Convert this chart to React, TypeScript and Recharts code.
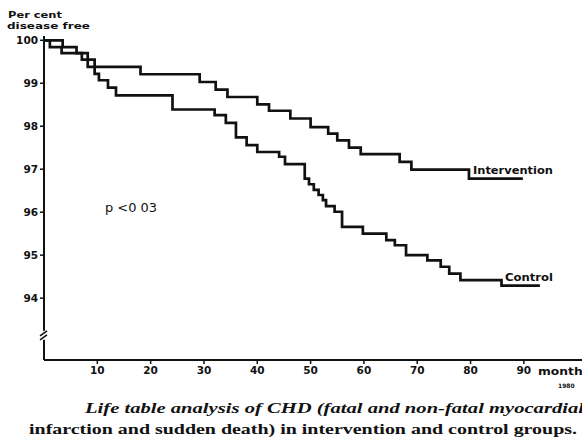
import React from "react";
import { LineChart, Line, XAxis, YAxis, ReferenceDot } from "recharts";

// Life-table survival (per cent free of CHD) by month of follow-up
const interventionMonths = [0, 3.5, 6.1, 8.2, 18.1, 29.2, 32.2, 34.4, 40.0, 42.2, 46.2, 50.0, 53.3, 55.0, 57.2, 59.4, 66.7, 68.9, 79.7, 89.8];
const interventionFree = [100, 99.84, 99.7, 99.38, 99.21, 99.03, 98.85, 98.68, 98.51, 98.36, 98.18, 97.98, 97.83, 97.67, 97.5, 97.35, 97.17, 96.99, 96.78, 96.78];

const controlMonths = [0, 1.1, 3.3, 7.1, 9.5, 10.3, 12.0, 13.5, 24.1, 32.0, 34.1, 36.0, 38.0, 40.0, 44.1, 45.2, 48.9, 49.7, 50.6, 51.5, 52.3, 52.9, 54.5, 55.9, 59.8, 64.2, 65.8, 67.9, 71.9, 74.4, 76.0, 78.1, 85.8, 93.0];
const controlFree = [100, 99.84, 99.7, 99.55, 99.22, 99.07, 98.9, 98.72, 98.39, 98.26, 98.08, 97.74, 97.56, 97.4, 97.29, 97.12, 96.78, 96.65, 96.52, 96.4, 96.28, 96.14, 96.01, 95.66, 95.5, 95.35, 95.23, 95.0, 94.88, 94.73, 94.57, 94.42, 94.29, 94.29];

const monthTicks = [10, 20, 30, 40, 50, 60, 70, 80, 90];
const percentTicks = [94, 95, 96, 97, 98, 99, 100];

const toSeries = (months: number[], values: number[]) =>
  months.map((m, i) => ({ m, v: values[i] }));

const interventionData = toSeries(interventionMonths, interventionFree);
const controlData = toSeries(controlMonths, controlFree);

const W = 582;
const H = 445;
const INK = "#111";

const tickFont = {
  fontFamily: "DejaVu Sans",
  fontWeight: 700,
  fontSize: 10.5,
  fill: INK,
};

// Small "//" break drawn across the value axis
function BreakMark(props: any) {
  const { cx, cy } = props;
  return (
    <g>
      <rect x={cx - 5} y={cy - 6} width={10} height={9} fill="#fff" />
      <line x1={cx - 4} y1={cy - 1} x2={cx + 3} y2={cy - 6} stroke={INK} strokeWidth={1.6} />
      <line x1={cx - 4} y1={cy + 3} x2={cx + 3} y2={cy - 2} stroke={INK} strokeWidth={1.6} />
    </g>
  );
}

export default function App() {
  return (
    <div style={{ position: "absolute", left: 0, top: 0, width: W, height: H, background: "#fff", overflow: "hidden" }}>
      <LineChart width={W} height={H} margin={{ top: 36, right: 0, bottom: 60, left: 0 }}>
        <XAxis
          type="number"
          dataKey="m"
          domain={[0, 100.9]}
          ticks={monthTicks}
          interval={0}
          height={25}
          axisLine={{ stroke: INK, strokeWidth: 2 }}
          tickLine={{ stroke: INK, strokeWidth: 1.5 }}
          tickSize={4}
          tickMargin={3}
          tick={tickFont}
        />
        <YAxis
          type="number"
          domain={[92.56, 100.1]}
          allowDataOverflow
          ticks={percentTicks}
          interval={0}
          width={44}
          axisLine={{ stroke: INK, strokeWidth: 2 }}
          tickLine={{ stroke: INK, strokeWidth: 1.5 }}
          tickSize={4}
          tickMargin={2}
          tick={tickFont}
        />
        <Line
          data={interventionData}
          dataKey="v"
          type="stepAfter"
          stroke={INK}
          strokeWidth={2.7}
          dot={false}
          isAnimationActive={false}
        />
        <Line
          data={controlData}
          dataKey="v"
          type="stepAfter"
          stroke={INK}
          strokeWidth={2.7}
          dot={false}
          isAnimationActive={false}
        />
        <ReferenceDot x={0} y={93.1} r={0} ifOverflow="visible" shape={BreakMark} />
      </LineChart>
      <svg width={W} height={H} style={{ position: "absolute", left: 0, top: 0, pointerEvents: "none" }}>
        <g fontFamily="DejaVu Sans" fontWeight={700} fill={INK}>
          <text x={8} y={18} fontSize={9.5} textLength={54} lengthAdjust="spacingAndGlyphs">Per cent</text>
          <text x={7} y={29} fontSize={9.5} textLength={83} lengthAdjust="spacingAndGlyphs">disease free</text>
          <text x={473} y={174} fontSize={10.5} textLength={80} lengthAdjust="spacingAndGlyphs">Intervention</text>
          <text x={505} y={281} fontSize={10.5} textLength={48} lengthAdjust="spacingAndGlyphs">Control</text>
          <text x={538} y={375} fontSize={10.5} textLength={52} lengthAdjust="spacingAndGlyphs">months</text>
          <text x={558} y={388} fontSize={6}>1980</text>
        </g>
        <text x={105} y={212} fontFamily="DejaVu Sans Condensed" fontSize={12.5} fill={INK} textLength={52} lengthAdjust="spacingAndGlyphs">p &lt;0 03</text>
        <g fontFamily="Liberation Serif" fontWeight={700} fill={INK} fontSize={15.5}>
          <text x={85} y={413} fontStyle="italic" textLength={499} lengthAdjust="spacingAndGlyphs">Life table analysis of CHD (fatal and non-fatal myocardial</text>
          <text x={29} y={434} textLength={548} lengthAdjust="spacingAndGlyphs">infarction and sudden death) in intervention and control groups.</text>
        </g>
      </svg>
    </div>
  );
}
